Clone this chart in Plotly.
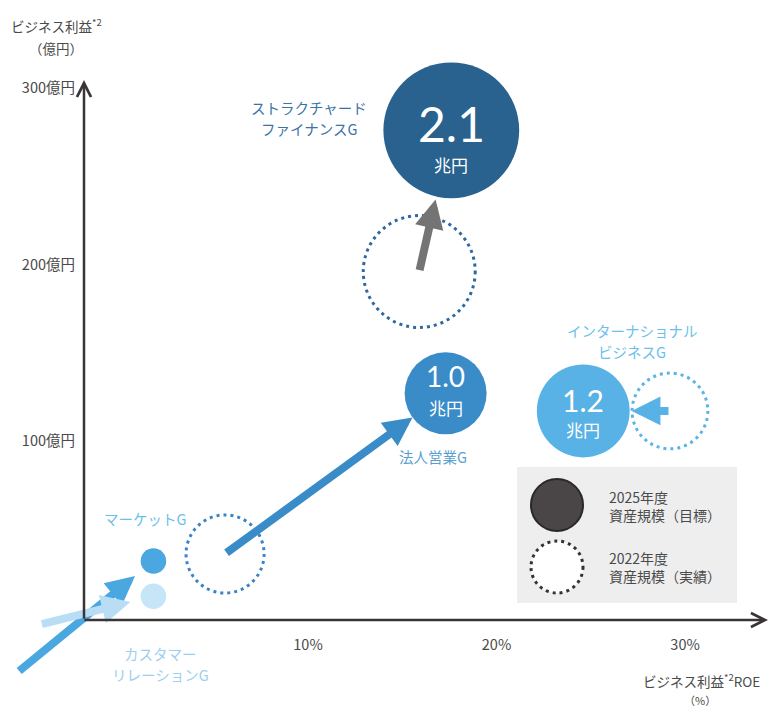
import math
import plotly.graph_objects as go

# ---------------- data ----------------
groups = ["ストラクチャードファイナンスG", "法人営業G", "インターナショナルビジネスG",
          "マーケットG", "カスタマーリレーションG"]
group_label_lines = [["ストラクチャード", "ファイナンスG"], ["法人営業G"],
                     ["インターナショナル", "ビジネスG"], ["マーケットG"],
                     ["カスタマー", "リレーションG"]]
roe_2025 = [17.6, 17.3, 24.6, 1.8, 1.8]          # ビジネス利益ROE (%)
profit_2025 = [276, 127, 117, 32, 12]             # ビジネス利益 (億円)
assets_2025 = [2.1, 1.0, 1.2, 0.18, 0.18]         # 資産規模 (兆円)
roe_2022 = [15.9, 5.6, 29.2, -5.4, -4.2]
profit_2022 = [196, 36, 117, -31, -4]
assets_2022 = [1.58, 0.93, 0.89, None, None]
x_tick_vals = [10, 20, 30]
x_tick_text = ["10%", "20%", "30%"]
y_tick_vals = [100, 200, 300]
y_tick_text = ["100億円", "200億円", "300億円"]
legend_texts = ["2025年度<br>資産規模（目標）", "2022年度<br>資産規模（実績）"]

# ---------------- layout / style ----------------
W, H = 770, 709
M = dict(l=84, r=2, t=80, b=89)
XR = [-1.883, 34.40]
YR = [-1.42, 304.5]
PW = W - M["l"] - M["r"]
PH = H - M["t"] - M["b"]
JP = "Noto Sans CJK JP"
AXIS_C = "#3a3434"
TXT_C = "#4a4a4a"


def dx2px(x):
    return M["l"] + (x - XR[0]) / (XR[1] - XR[0]) * PW


def dy2px(y):
    return M["t"] + (YR[1] - y) / (YR[1] - YR[0]) * PH


def px2dx(p):
    return XR[0] + (p - M["l"]) / PW * (XR[1] - XR[0])


def px2dy(p):
    return YR[1] - (p - M["t"]) / PH * (YR[1] - YR[0])


def ppx(p):
    return (p - M["l"]) / PW


def ppy(p):
    return (H - M["b"] - p) / PH


R_UNIT, R_EXP = 41.0, 0.68


def radius(v):
    return R_UNIT * v ** R_EXP


fill_2025 = ["#29628f", "#3a8cc8", "#58b2e5", "#4ba7df", "#c6e5f7"]
dot_2022 = ["#2d69a0", "#3a84c4", "#5ab4e6", None, None]
arrow_c = ["#747474", "#3a8cc8", "#58b2e5", "#4ba7df", "#b8ddf4"]
label_c = ["#3b73a6", "#5a9fd2", "#6cbfea", "#6cbfea", "#9dcfef"]
label_off = [(-142, -12), (-13, 63), (49, -70), (-8, -43), (7, 68)]
label_gap = 21
arrow_gap = [3, 0, 2, 11, 11]
val_size = [48, 28, 30, 0, 0]
val_shift = [7, 17, 11, 0, 0]
unit_shift = [-34, -14, -19, 0, 0]

fig = go.Figure()
shapes = []
annotations = []

# 2022 dotted circles
for i in range(len(groups)):
    if assets_2022[i] is None:
        continue
    r = radius(assets_2022[i])
    cx, cy = dx2px(roe_2022[i]), dy2px(profit_2022[i])
    shapes.append(dict(type="circle", xref="x", yref="y", layer="below",
                       x0=px2dx(cx - r), x1=px2dx(cx + r),
                       y0=px2dy(cy + r), y1=px2dy(cy - r),
                       line=dict(color=dot_2022[i], width=3, dash="3px,4px")))

# 2025 bubbles
fig.add_trace(go.Scatter(
    x=roe_2025, y=profit_2025, mode="markers", cliponaxis=False,
    marker=dict(size=[2 * radius(v) for v in assets_2025], color=fill_2025,
                line=dict(width=0), opacity=1),
    hoverinfo="skip", showlegend=False))

# arrows 2022 -> 2025
for i in range(len(groups)):
    tx, ty = dx2px(roe_2022[i]), dy2px(profit_2022[i])
    cx, cy = dx2px(roe_2025[i]), dy2px(profit_2025[i])
    d = math.hypot(cx - tx, cy - ty)
    ux, uy = (cx - tx) / d, (cy - ty) / d
    rr = radius(assets_2025[i]) + arrow_gap[i]
    hx, hy = cx - rr * ux, cy - rr * uy
    annotations.append(dict(
        x=px2dx(hx), y=px2dy(hy), xref="x", yref="y",
        ax=roe_2022[i], ay=profit_2022[i], axref="x", ayref="y",
        text="", showarrow=True, arrowhead=2, arrowsize=0.72, arrowwidth=8,
        arrowcolor=arrow_c[i], standoff=0, font=dict(size=1)))

# values inside bubbles
for i in range(len(groups)):
    if assets_2025[i] < 0.5:
        continue
    annotations.append(dict(x=roe_2025[i], y=profit_2025[i], xref="x", yref="y",
                            text=f"{assets_2025[i]:.1f}", showarrow=False,
                            xanchor="center", yanchor="middle", yshift=val_shift[i],
                            font=dict(family="Lato", size=val_size[i], color="white")))
    annotations.append(dict(x=roe_2025[i], y=profit_2025[i], xref="x", yref="y",
                            text="兆円", showarrow=False, yshift=unit_shift[i],
                            xanchor="center", yanchor="middle",
                            font=dict(family=JP, size=17, color="white")))

# group labels (one annotation per line)
for i in range(len(groups)):
    lines = group_label_lines[i]
    n = len(lines)
    for k, line in enumerate(lines):
        off = (k - (n - 1) / 2) * label_gap
        annotations.append(dict(x=roe_2025[i], y=profit_2025[i], xref="x", yref="y",
                                text=line, showarrow=False,
                                xanchor="center", yanchor="middle",
                                xshift=label_off[i][0], yshift=-(label_off[i][1] + off),
                                font=dict(family=JP, size=14.5, color=label_c[i])))

# axes (arrows)
annotations.append(dict(x=XR[1], y=YR[0], ax=XR[0] - 0.06, ay=YR[0], xref="x", yref="y",
                        axref="x", ayref="y", text="", showarrow=True, arrowhead=5,
                        arrowsize=1.1, arrowwidth=2.5, arrowcolor=AXIS_C, standoff=0,
                        font=dict(size=1)))
annotations.append(dict(x=XR[0], y=YR[1], ax=XR[0], ay=YR[0], xref="x", yref="y",
                        axref="x", ayref="y", text="", showarrow=True, arrowhead=5,
                        arrowsize=1.1, arrowwidth=2.5, arrowcolor=AXIS_C, standoff=0,
                        font=dict(size=1)))

# axis titles
annotations += [
    dict(x=ppx(56), y=ppy(26), xref="paper", yref="paper", showarrow=False,
         xanchor="center", yanchor="middle",
         text="ビジネス利益<sup>*2</sup>", font=dict(family=JP, size=13.5, color=TXT_C)),
    dict(x=ppx(56), y=ppy(48), xref="paper", yref="paper", showarrow=False,
         xanchor="center", yanchor="middle",
         text="（億円）", font=dict(family=JP, size=13.5, color=TXT_C)),
    dict(x=ppx(762), y=ppy(680), xref="paper", yref="paper", showarrow=False,
         xanchor="right", yanchor="middle", text="ビジネス利益<sup>*2</sup>ROE",
         font=dict(family=JP, size=13.5, color=TXT_C)),
    dict(x=ppx(700), y=ppy(700), xref="paper", yref="paper", showarrow=False,
         xanchor="center", yanchor="middle",
         text="（%）", font=dict(family=JP, size=11, color=TXT_C)),
]

# legend box
shapes.append(dict(type="rect", xref="paper", yref="paper", layer="below",
                   x0=ppx(517), x1=ppx(737), y0=ppy(603), y1=ppy(467),
                   fillcolor="#eeeeee", line=dict(width=0)))
shapes.append(dict(type="circle", xref="paper", yref="paper",
                   x0=ppx(531), x1=ppx(583), y0=ppy(531), y1=ppy(479),
                   fillcolor="#4a4546", line=dict(color="#2b2829", width=2)))
shapes.append(dict(type="circle", xref="paper", yref="paper",
                   x0=ppx(531), x1=ppx(583), y0=ppy(593), y1=ppy(541),
                   fillcolor="white", line=dict(color="#333333", width=3, dash="3px,4px")))
for k, yc in enumerate([506, 567]):
    annotations.append(dict(x=ppx(607), y=ppy(yc), xref="paper", yref="paper",
                            showarrow=False, xanchor="left", yanchor="middle",
                            align="left", text=legend_texts[k],
                            font=dict(family=JP, size=14, color=TXT_C)))

fig.update_layout(
    width=W, height=H, margin=M,
    paper_bgcolor="white", plot_bgcolor="white",
    shapes=shapes, annotations=annotations,
    xaxis=dict(range=XR, showgrid=False, zeroline=False, showline=False,
               tickvals=x_tick_vals, ticktext=x_tick_text, ticks="",
               ticklabelstandoff=14,
               tickfont=dict(family=JP, size=14.5, color=TXT_C)),
    yaxis=dict(range=YR, showgrid=False, zeroline=False, showline=False,
               tickvals=y_tick_vals, ticktext=y_tick_text, ticks="",
               ticklabelstandoff=8,
               tickfont=dict(family=JP, size=14.5, color=TXT_C)),
    showlegend=False,
)

fig.write_html("out.html")
